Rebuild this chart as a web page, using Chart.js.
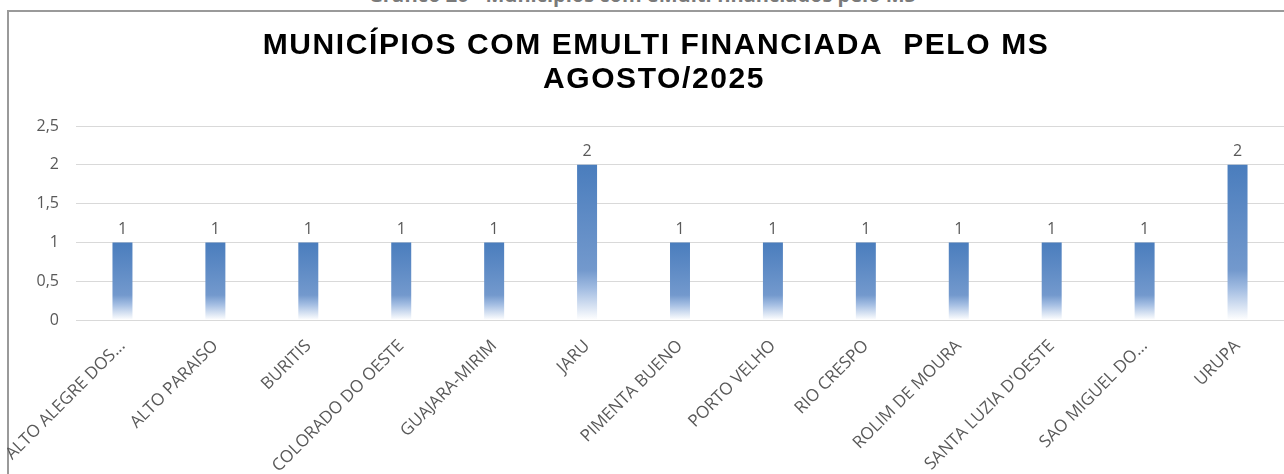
<!DOCTYPE html>
<html>
<head>
<meta charset="utf-8">
<script src="https://cdn.jsdelivr.net/npm/chart.js@4.4.1/dist/chart.umd.min.js"></script>
<style>
  html, body { margin: 0; padding: 0; background: #fff; overflow: hidden; }
  #wrap { position: relative; width: 1284px; height: 474px; }
  #caption {
    position: absolute; left: 0; width: 1284px; top: -16px;
    text-align: center; font: bold 20px "Open Sans", sans-serif; color: #7a7a7a;
    line-height: 22px; white-space: nowrap;
  }
  #frame {
    position: absolute; left: 7px; top: 10px; width: 1290px; height: 480px;
    border-top: 2px solid #9a9a9a; border-left: 2px solid #9a9a9a;
  }
  canvas { position: absolute; left: 0; top: 0; }
</style>
</head>
<body>
<div id="wrap">
  <div id="caption">Gráfico 20 - Municípios com eMulti financiados pelo MS</div>
  <div id="frame"></div>
  <canvas id="chart" width="1284" height="474"></canvas>
</div>
<script>
// ---------- Data ----------
var municipios = [
  "ALTO ALEGRE DOS...", "ALTO PARAISO", "BURITIS", "COLORADO DO OESTE",
  "GUAJARA-MIRIM", "JARU", "PIMENTA BUENO", "PORTO VELHO", "RIO CRESPO",
  "ROLIM DE MOURA", "SANTA LUZIA D'OESTE", "SAO MIGUEL DO...", "URUPA"
];
var equipes = [1, 1, 1, 1, 1, 2, 1, 1, 1, 1, 1, 1, 2];
var yTicks = [0, 0.5, 1, 1.5, 2, 2.5];
var yTickLabels = ["0", "0,5", "1", "1,5", "2", "2,5"];
var titleLines = ["MUNICÍPIOS COM EMULTI FINANCIADA  PELO MS", "AGOSTO/2025"];

(function () {
  "use strict";

  // Excel-like vertical gradient, solid blue fading to white at the base
  function barFill(ctx) {
    var chart = ctx.chart;
    if (!chart.chartArea || ctx.raw == null) return "#4f81bd";
    var ys = chart.scales.y;
    var top = ys.getPixelForValue(ctx.raw);
    var base = ys.getPixelForValue(0);
    var g = chart.ctx.createLinearGradient(0, top, 0, base);
    g.addColorStop(0, "#4a7dbd");
    g.addColorStop(0.68, "#7399cd");
    g.addColorStop(0.8, "#a3bde2");
    g.addColorStop(1, "#ffffff");
    return g;
  }

  // value labels above the bars
  var valueLabels = {
    id: "valueLabels",
    afterDatasetsDraw: function (chart) {
      var c = chart.ctx;
      var meta = chart.getDatasetMeta(0);
      c.save();
      c.font = "16px 'Open Sans', sans-serif";
      c.fillStyle = "#595959";
      c.textAlign = "center";
      c.textBaseline = "bottom";
      meta.data.forEach(function (bar, i) {
        c.fillText(String(equipes[i]), bar.x, bar.y - 5);
      });
      c.restore();
    }
  };

  // title drawn by hand so it can get the wider letter spacing of the original
  var titleBlock = {
    id: "titleBlock",
    afterDraw: function (chart) {
      var c = chart.ctx;
      c.save();
      c.font = "bold 30px 'Liberation Sans', Arial, sans-serif";
      c.fillStyle = "#000";
      c.textAlign = "center";
      c.textBaseline = "middle";
      if ("letterSpacing" in c) c.letterSpacing = "1.6px";
      c.fillText(titleLines[0], 656, 46);
      c.fillText(titleLines[1], 654, 80);
      c.restore();
    }
  };

  new Chart(document.getElementById("chart"), {
    type: "bar",
    data: {
      labels: municipios,
      datasets: [{
        data: equipes,
        backgroundColor: barFill,
        borderWidth: 0,
        barPercentage: 0.215,
        categoryPercentage: 1
      }]
    },
    plugins: [valueLabels, titleBlock],
    options: {
      responsive: false,
      animation: false,
      layout: { padding: { left: 0, right: 0, top: 126, bottom: 0 } },
      plugins: {
        legend: { display: false },
        tooltip: { enabled: false },
        title: { display: false }
      },
      scales: {
        x: {
          grid: { display: false, drawTicks: false },
          border: { display: false },
          ticks: {
            color: "#595959",
            font: { family: "'Open Sans', sans-serif", size: 17 },
            minRotation: 45,
            maxRotation: 45,
            autoSkip: false,
            padding: 16
          },
          afterFit: function (scale) {
            scale.height = 154;
            scale.paddingLeft = 0;
            scale.paddingRight = 0;
          }
        },
        y: {
          min: 0,
          max: 2.5,
          afterBuildTicks: function (scale) {
            scale.ticks = yTicks.map(function (v) { return { value: v }; });
          },
          ticks: {
            color: "#595959",
            font: { family: "'Open Sans', sans-serif", size: 16 },
            padding: 17,
            callback: function (v) {
              var i = yTicks.indexOf(v);
              return i >= 0 ? yTickLabels[i] : "";
            }
          },
          grid: { color: "#d9d9d9", lineWidth: 1, drawTicks: false },
          border: { display: false },
          afterFit: function (scale) { scale.width = 76; }
        }
      }
    }
  });
})();
</script>
</body>
</html>
